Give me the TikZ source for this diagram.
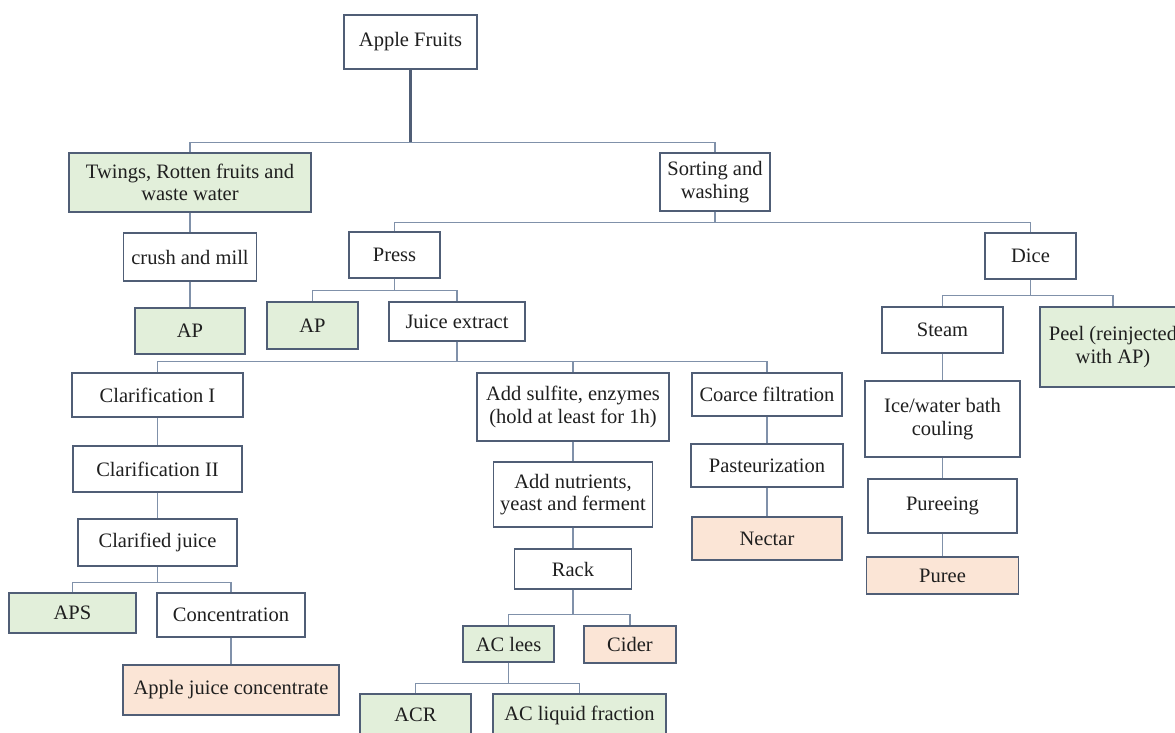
\documentclass[tikz,border=0pt]{standalone}
\usepackage{fontspec}
\IfFontExistsTF{LiberationSerif-Regular.ttf}
  {\setmainfont{LiberationSerif-Regular.ttf}}
  {\setmainfont{Liberation Serif}}
\usetikzlibrary{positioning}

\definecolor{boxline}{RGB}{80,94,118}
\definecolor{linkline}{RGB}{128,145,170}
\definecolor{wastegreen}{RGB}{226,239,218}
\definecolor{productpeach}{RGB}{251,229,214}

\tikzset{
  stepbox/.style={draw=boxline, line width=1.3pt, fill=white, align=center,
    inner sep=2pt, text=black!88},
  waste/.style={stepbox, fill=wastegreen},
  product/.style={stepbox, fill=productpeach},
  wh/.style 2 args={minimum width=#1pt, minimum height=#2pt},
  link/.style={draw=linkline, line width=1.3pt},
}

\begin{document}
\begin{tikzpicture}[x=1pt, y=-1pt, font=\rmfamily\fontsize{20.5}{22.5}\selectfont]
  \useasboundingbox (0,0) rectangle (1175,732);

  % top of the tree
  \node[stepbox, wh={133}{54}] (apple) at (410.5,42) {Apple Fruits};
  \node[waste, wh={242}{59}] (twings) at (190,182.5) {Twings, Rotten fruits and\\waste water};
  \node[stepbox, wh={110}{58}] (sort) at (715,182) {Sorting and\\washing};

  % left branch
  \node[stepbox, wh={133}{48}] (crush) at (190,257) {crush and mill};
  \node[waste, wh={110}{46}] (ap1) at (190,331) {AP};

  % press line
  \node[stepbox, wh={91}{46}] (press) at (394.5,255) {Press};
  \node[waste, wh={91}{47}] (ap2) at (312.5,325.5) {AP};
  \node[stepbox, wh={136}{39}] (juice) at (457,321.5) {Juice extract};

  \node[stepbox, wh={171}{44}] (clar1) at (157.5,395) {Clarification I};
  \node[stepbox, wh={169}{46}] (clar2) at (157.5,469) {Clarification II};
  \node[stepbox, wh={159}{47}] (clarj) at (157.5,542.5) {Clarified juice};
  \node[waste, wh={127}{40}] (aps) at (72.5,613) {APS};
  \node[stepbox, wh={148}{44}] (conc) at (231,615) {Concentration};
  \node[product, wh={216}{50}] (ajc) at (231,690) {Apple juice concentrate};

  \node[stepbox, wh={192}{68}] (sulfite) at (573,407) {Add sulfite, enzymes\\(hold at least for 1h)};
  \node[stepbox, wh={159}{65}] (nutr) at (573,494.5) {Add nutrients,\\yeast and ferment};
  \node[stepbox, wh={117}{40}] (rack) at (573,569) {Rack};
  \node[waste, wh={91}{36}] (lees) at (508.5,644) {AC lees};
  \node[product, wh={92}{37}] (cider) at (630,644.5) {Cider};
  \node[waste, wh={111}{42}] (acr) at (415.5,715) {ACR};
  \node[waste, wh={173}{42}] (acliq) at (579.5,715) {AC liquid fraction};

  \node[stepbox, wh={150}{43}] (coarce) at (767,394.5) {Coarce filtration};
  \node[stepbox, wh={152}{43}] (past) at (767,465.5) {Pasteurization};
  \node[product, wh={150}{43}] (nectar) at (767,538.5) {Nectar};

  % dice line
  \node[stepbox, wh={91}{46}] (dice) at (1030.5,256) {Dice};
  \node[stepbox, wh={121}{46}] (steam) at (942.5,330) {Steam};
  \node[waste, wh={146}{80}] (peel) at (1113,347) {Peel (reinjected\\with AP)};
  \node[stepbox, wh={155}{76}] (ice) at (942.5,419) {Ice/water bath\\couling};
  \node[stepbox, wh={149}{54}] (pureeing) at (942.5,506) {Pureeing};
  \node[product, wh={152}{37}] (puree) at (942.5,575.5) {Puree};

  % connectors
  \draw[link, draw=boxline, line width=2.4pt] (apple.south) -- ++(0,73) coordinate (hub);
  \draw[link] (hub) -| (twings.north);
  \draw[link] (hub) -| (sort.north);
  \foreach \p/\d/\c in {twings/10/crush, crush/13/ap1, sort/11/press, sort/11/dice,
      press/12/ap2, press/12/juice, juice/20/clar1, juice/20/sulfite, juice/20/coarce,
      dice/16/steam, dice/16/peel, clar1/14/clar2, clar2/13/clarj, clarj/16/aps,
      clarj/16/conc, conc/14/ajc, sulfite/10/nutr, nutr/11/rack, rack/25/lees,
      rack/25/cider, lees/21/acr, lees/21/acliq, coarce/14/past, past/15/nectar,
      steam/14/ice, ice/11/pureeing, pureeing/12/puree}
    \draw[link] (\p.south) -- ++(0,\d) -| (\c.north);
\end{tikzpicture}
\end{document}
